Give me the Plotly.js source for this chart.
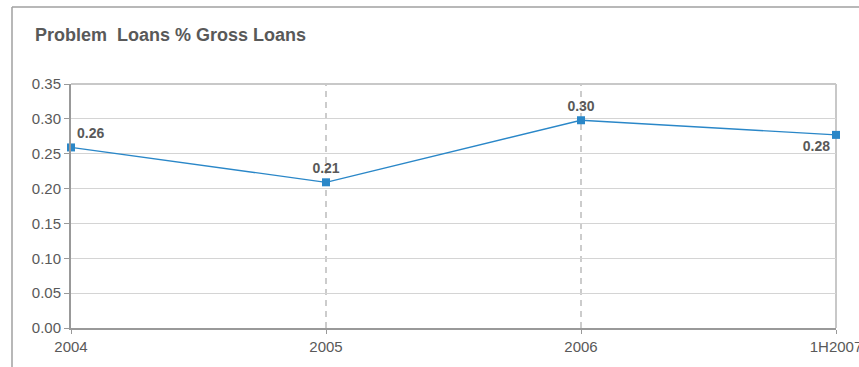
<!DOCTYPE html>
<html>
<head>
<meta charset="utf-8">
<script src="https://cdn.plot.ly/plotly-3.0.1.min.js"></script>
<style>
html,body{margin:0;padding:0;background:#fff;}
#chart{width:859px;height:367px;}
</style>
</head>
<body>
<div id="chart"></div>
<script>
const categories = ["2004", "2005", "2006", "1H2007"];
const values = [0.259, 0.209, 0.298, 0.277];
const labels = ["0.26", "0.21", "0.30", "0.28"];
const labelPositions = ["top right", "top center", "top center", "bottom left"];
const yTicks = [0, 0.05, 0.10, 0.15, 0.20, 0.25, 0.30, 0.35];

const trace = {
  x: [0, 1, 2, 3],
  y: values,
  type: "scatter",
  mode: "lines+markers+text",
  text: labels,
  textposition: labelPositions,
  textfont: {family: "Liberation Sans, Arial, sans-serif", size: 14, color: "#595959", weight: "bold"},
  line: {color: "#2a87c8", width: 1.3},
  marker: {symbol: "square", size: 8, color: "#2a87c8"},
  cliponaxis: false,
  hoverinfo: "skip"
};

const layout = {
  width: 859, height: 367,
  margin: {l: 71, r: 23, t: 84, b: 39, autoexpand: false},
  paper_bgcolor: "#fff", plot_bgcolor: "#fff",
  showlegend: false,
  font: {family: "Liberation Sans, Arial, sans-serif", color: "#595959", size: 15},
  title: {
    text: "<b>Problem  Loans % Gross Loans</b>",
    x: 35/859, xanchor: "left", xref: "container",
    y: 1 - 35/367, yanchor: "middle", yref: "container",
    font: {family: "Liberation Sans, Arial, sans-serif", size: 18, color: "#595959"}
  },
  xaxis: {
    range: [0, 3],
    tickmode: "array", tickvals: [0, 1, 2, 3], ticktext: categories,
    showgrid: false, zeroline: false,
    showline: true, linecolor: "#999", linewidth: 2,
    ticks: "outside", ticklen: 4, tickcolor: "#999", tickwidth: 1,
    tickfont: {size: 15, color: "#595959"},
    ticklabeloverflow: "allow", automargin: false,
    mirror: false, fixedrange: true
  },
  yaxis: {
    range: [0, 0.35],
    tickmode: "array", tickvals: yTicks, ticktext: yTicks.map(v => v.toFixed(2)),
    showgrid: true, gridcolor: "#d4d4d4", gridwidth: 1,
    zeroline: false,
    showline: true, linecolor: "#999", linewidth: 2,
    ticks: "outside", ticklen: 5, tickcolor: "#999", tickwidth: 1,
    tickfont: {size: 15, color: "#595959"},
    automargin: false,
    fixedrange: true
  },
  shapes: [
    {type: "line", xref: "x", yref: "paper", x0: 1, x1: 1, y0: 0, y1: 1, line: {color: "#999", width: 1, dash: "6px,5px"}, layer: "below"},
    {type: "line", xref: "x", yref: "paper", x0: 2, x1: 2, y0: 0, y1: 1, line: {color: "#999", width: 1, dash: "6px,5px"}, layer: "below"},
    {type: "line", xref: "paper", yref: "paper", x0: 0, x1: 1, y0: 1, y1: 1, line: {color: "#c8c8c8", width: 2}, layer: "below"},
    {type: "line", xref: "paper", yref: "paper", x0: 1, x1: 1, y0: 0, y1: 1, line: {color: "#c8c8c8", width: 2}, layer: "below"},
    {type: "line", xref: "paper", yref: "paper", x0: (12-71)/765, x1: (859-71)/765, y0: 1 + 77/244, y1: 1 + 77/244, line: {color: "#a0a0a0", width: 1.5}},
    {type: "line", xref: "paper", yref: "paper", x0: (12-71)/765, x1: (12-71)/765, y0: 1 + 77/244, y1: -39/244, line: {color: "#a0a0a0", width: 1.5}}
  ]
};

Plotly.newPlot("chart", [trace], layout, {staticPlot: true, displayModeBar: false});
</script>
</body>
</html>
